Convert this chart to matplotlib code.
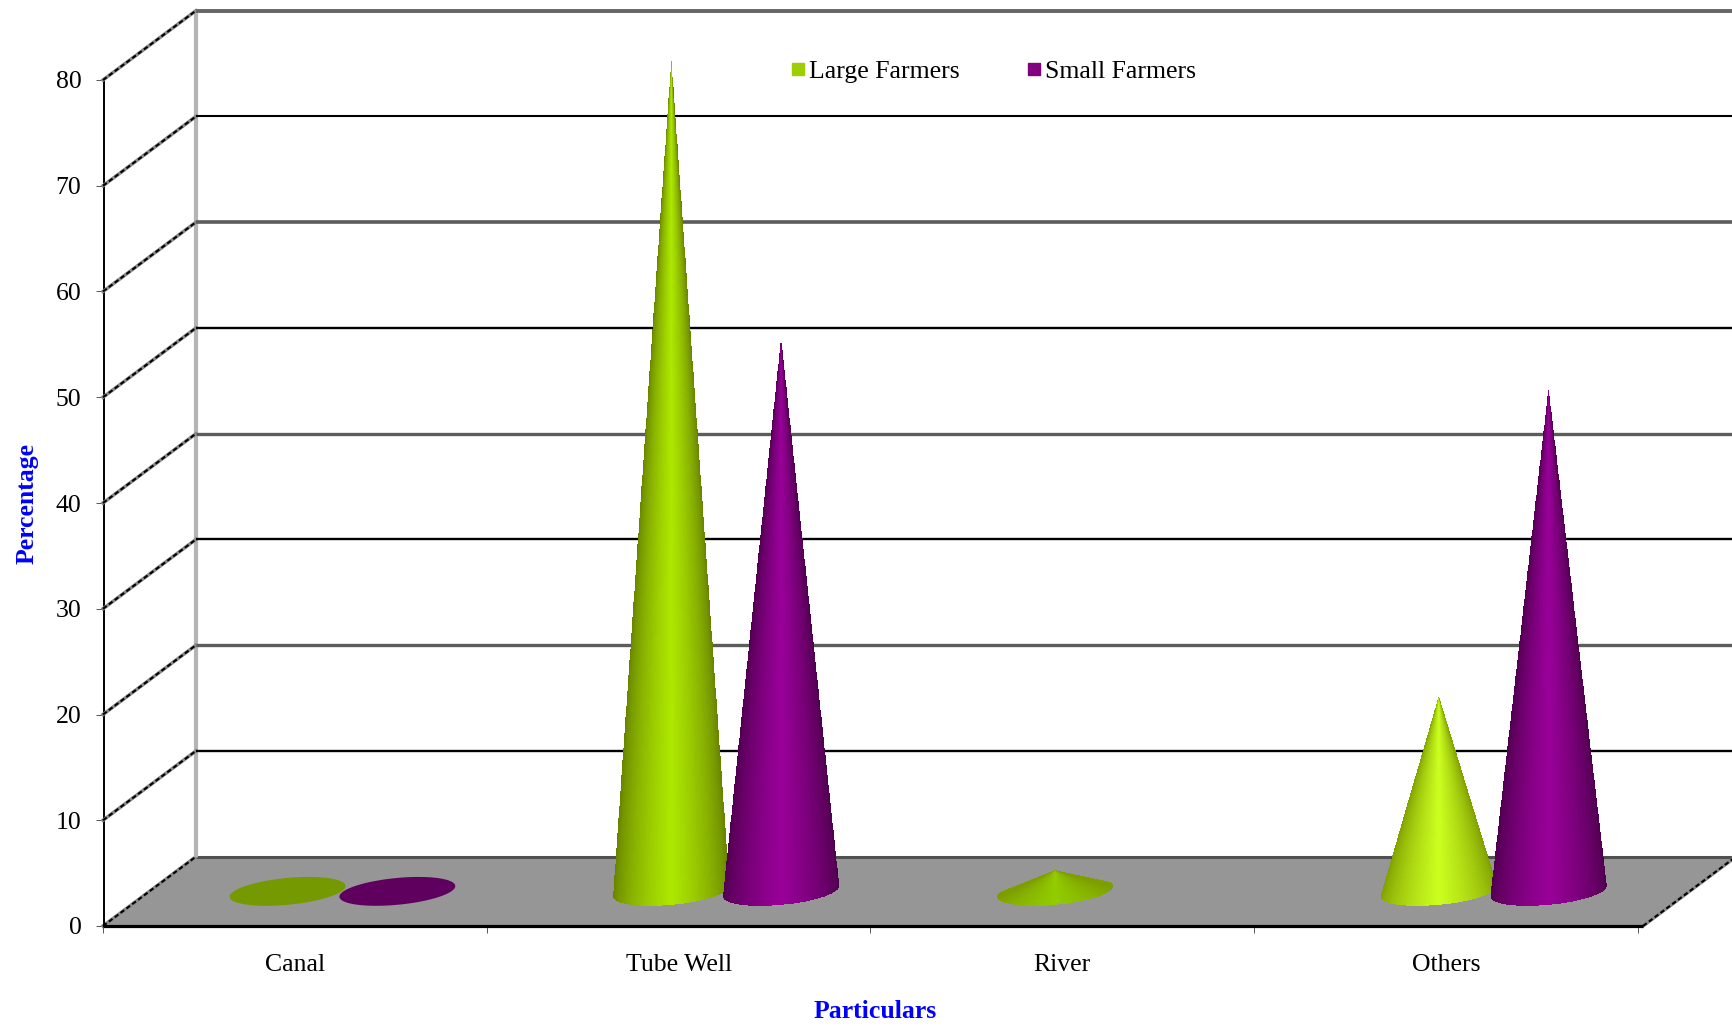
import numpy as np
import matplotlib
matplotlib.use("Agg")
import matplotlib.pyplot as plt
from matplotlib.lines import Line2D

plt.rcParams["font.family"] = ["Liberation Serif", "DejaVu Serif"]

categories = ["Canal", "Tube Well", "River", "Others"]
large_farmers = [0, 78.5, 2.0, 18.4]
small_farmers = [0, 52.2, np.nan, 47.4]
y_ticks = [0, 10, 20, 30, 40, 50, 60, 70, 80]

# depth of the box, in data units
depth_x = 0.242
depth_y = 6.55
right_end = 4.013
offset = 0.143
radius = 0.151
ell_b = 1.27
ell_tilt = 0.5

# edge and highlight colour of each cone
large_shades = [("#759900", "#759900"), ("#668000", "#aee800"), ("#7d9c00", "#92cc00"), ("#7f9e00", "#ccff1f")]
small_shades = [("#5f005f", "#5f005f"), ("#4d004d", "#990099"), ("#4d004d", "#990099"), ("#4d004d", "#990099")]
grid_colors = {10: "#000000", 20: "#5c5c5c", 30: "#000000", 40: "#5c5c5c", 50: "#000000",
               60: "#5c5c5c", 70: "#000000", 80: "#666666"}
grid_widths = {10: 1.7, 20: 2.4, 30: 1.7, 40: 2.4, 50: 1.7, 60: 2.6, 70: 1.5, 80: 2.8}


def to_rgb(c):
    return np.array(matplotlib.colors.to_rgb(c))


def draw_side_line(ax, x0, y0, x1, y1, z):
    # the slanted edges look like a grey line with black flecks on it
    ax.plot([x0, x1], [y0, y1], color="#8a8a8a", lw=2.5, zorder=z, clip_on=False)
    ax.plot([x0, x1], [y0, y1], color="black", lw=1.5, ls=(0, (2.2, 1.3)), zorder=z, clip_on=False)


def draw_cone(ax, xc, value, shade, z):
    y0 = depth_y / 2
    if np.isnan(value):
        return
    if value == 0:
        th = np.linspace(0, 2 * np.pi, 100)
        ax.fill(xc + radius * np.cos(th), y0 + ell_tilt * np.cos(th) + ell_b * np.sin(th),
                color=shade[1], lw=0, zorder=z, clip_on=False)
        return
    # run a little past the ends of the lower half so the base corners stay round
    th = np.linspace(np.pi - 0.35, 2 * np.pi + 0.35, 141)
    t = np.linspace(0, 1, 160)
    bx = xc + radius * np.cos(th)
    by = y0 + ell_tilt * np.cos(th) + ell_b * np.sin(th)
    X = np.outer(1 - t, bx) + np.outer(t, np.full_like(bx, xc))
    Y = np.outer(1 - t, by) + np.outer(t, np.full_like(by, y0 + value))
    u = np.cos((th[:-1] + th[1:]) / 2)
    w = (1 - np.abs(u)) ** 0.65
    edge, peak = to_rgb(shade[0]), to_rgb(shade[1])
    row = edge[None, :] + w[:, None] * (peak - edge)[None, :]
    C = np.repeat(row[None, :, :], len(t) - 1, axis=0)
    ax.pcolormesh(X, Y, C, shading="flat", antialiased=False, zorder=z, clip_on=False)


fig = plt.figure(figsize=(17.33, 10.26), dpi=100)
ax = fig.add_axes([103 / 1733, 100 / 1026, 1535 / 1733, 846 / 1026])
ax.patch.set_visible(False)

# floor
ax.fill([0, right_end, right_end + depth_x, depth_x], [0, 0, depth_y, depth_y],
        color="#969696", lw=0, zorder=1, clip_on=False)
ax.plot([depth_x, right_end + depth_x], [depth_y, depth_y], color="#505050", lw=2.2, zorder=2,
        clip_on=False, solid_capstyle="butt")
draw_side_line(ax, 0, 0, depth_x, depth_y, 2)
draw_side_line(ax, right_end, 0, right_end + depth_x, depth_y, 2)

# back wall edge
ax.plot([depth_x, depth_x], [depth_y, 80 + depth_y], color="#b4b4b4", lw=3, zorder=2, clip_on=False,
        solid_capstyle="butt")

# grid lines run along the side wall, then across the back wall
for v in y_ticks[1:]:
    draw_side_line(ax, 0, v, depth_x, v + depth_y, 3)
    ax.plot([depth_x, right_end + depth_x], [v + depth_y, v + depth_y], color=grid_colors[v],
            lw=grid_widths[v], zorder=3, clip_on=False, solid_capstyle="butt")

for i in range(len(categories)):
    xc = i + 0.5 + depth_x / 2 + 0.003
    draw_cone(ax, xc - offset, large_farmers[i], large_shades[i], 5)
    draw_cone(ax, xc + offset, small_farmers[i], small_shades[i], 6)

ax.set_xlim(0, 4)
ax.set_ylim(0, 80)

for side in ["top", "right"]:
    ax.spines[side].set_visible(False)
ax.spines["left"].set_linewidth(1.4)
ax.spines["left"].set_position(("outward", -1))
ax.spines["bottom"].set_visible(False)
ax.plot([0, right_end], [0, 0], color="black", lw=2.3, zorder=4, clip_on=False, solid_capstyle="butt")

ax.set_yticks(y_ticks)
ax.set_xticks(range(5))
ax.set_xticklabels([])
ax.set_xticks(np.arange(4) + 0.5, minor=True)
ax.set_xticklabels(categories, minor=True, fontsize=18.5)
ax.tick_params(axis="x", which="minor", length=0, pad=20.5)
ax.tick_params(axis="x", which="major", length=5, width=0.7, color="#555555")
ax.tick_params(axis="y", length=6, width=0.7, color="#555555", labelsize=18.5, pad=10.5)

fig.text(875 / 1733, 1 - 1011 / 1026, "Particulars", color="#0000ff", fontsize=18.5, fontweight="bold",
         ha="center", va="center")
fig.text(27 / 1733, 1 - 504 / 1026, "Percentage", color="#0000ff", fontsize=18.5, fontweight="bold",
         rotation=90, ha="center", va="center")

handles = [Line2D([], [], ls="none", marker="s", ms=9, color="#9dcf00", label="Large Farmers"),
           Line2D([], [], ls="none", marker="s", ms=9, color="#800080", label="Small Farmers")]
fig.legend(handles=handles, ncol=2, loc="center", bbox_to_anchor=(993 / 1733, 1 - 72 / 1026), frameon=False,
           fontsize=18.5, handlelength=0.6, handletextpad=0.12, columnspacing=2.6)

fig.savefig("out.png", dpi=100)
